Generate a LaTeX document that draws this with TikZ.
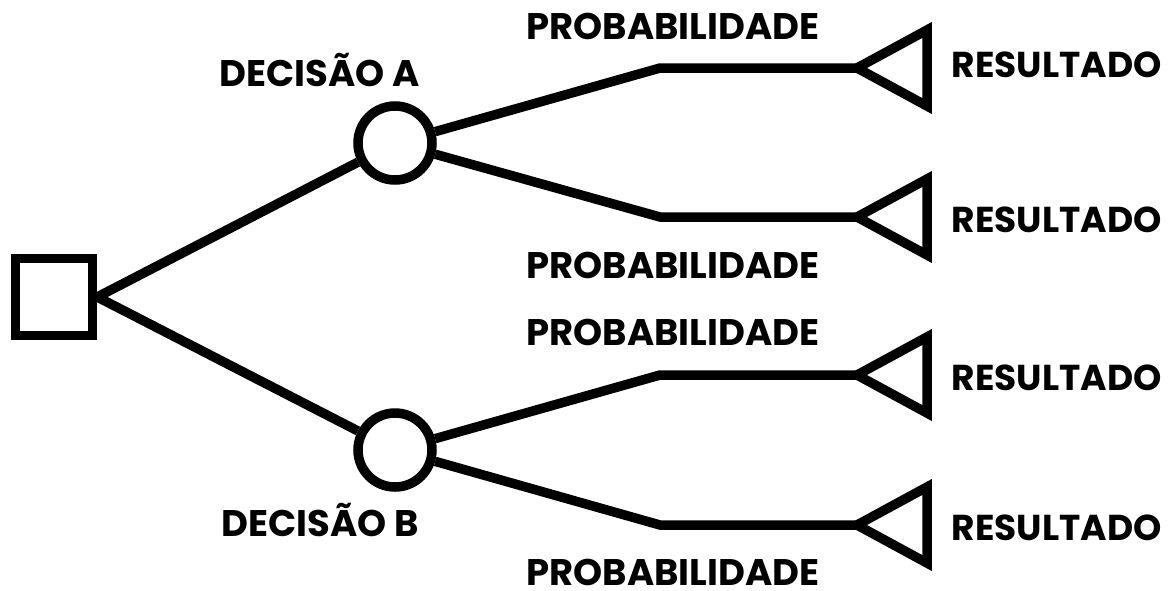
\documentclass[tikz,border=0pt]{standalone}
\usepackage{fontspec}
\setmainfont{Poppins}[UprightFont=* Bold]
\usepackage{tikz}

\begin{document}
\begin{tikzpicture}[x=1pt,y=-1pt,
        line width=9.5pt,
        decision/.style={rectangle,draw,minimum size=77pt,inner sep=0pt},
        chance/.style={circle,draw,minimum size=74pt,inner sep=0pt},
        lbl/.style={anchor=base,inner sep=0pt,font=\fontsize{37}{37}\selectfont},
        res/.style={anchor=base west,inner sep=0pt,font=\fontsize{36}{36}\selectfont}]

    \useasboundingbox (0,0) rectangle (1170,590);

    \node[decision] (d) at (54,297) {};
    \node[chance] (a) at (395,143) {};
    \node[chance] (b) at (395,450) {};

    % knees and tips of the end triangles
    \coordinate (k1) at (660,68);   \coordinate (t1) at (857,68);
    \coordinate (k2) at (660,217);  \coordinate (t2) at (857,217);
    \coordinate (k3) at (660,375);  \coordinate (t3) at (857,375);
    \coordinate (k4) at (660,525);  \coordinate (t4) at (857,525);

    \draw (d.east) -- (a);
    \draw (d.east) -- (b);
    \draw (a) -- (k1) -- (t1);
    \draw (a) -- (k2) -- (t2);
    \draw (b) -- (k3) -- (t3);
    \draw (b) -- (k4) -- (t4);

    \foreach \t in {t1,t2,t3,t4}
        \draw (\t) -- ++(70,-38) -- ++(0,76) -- cycle;

    \node[lbl] (la) at (320,86) {DECISÃO A};
    \node[lbl] (lb) at (320,536) {DECISÃO B};

    \node[lbl] (p1) at (673,39) {PROBABILIDADE};
    \node[lbl] (p2) at (673,278) {PROBABILIDADE};
    \node[lbl] (p3) at (673,345) {PROBABILIDADE};
    \node[lbl] (p4) at (673,585) {PROBABILIDADE};

    \node[res] (r1) at (947,77) {RESULTADO};
    \node[res] (r2) at (947,232) {RESULTADO};
    \node[res] (r3) at (947,390) {RESULTADO};
    \node[res] (r4) at (947,540) {RESULTADO};
\end{tikzpicture}
\end{document}
